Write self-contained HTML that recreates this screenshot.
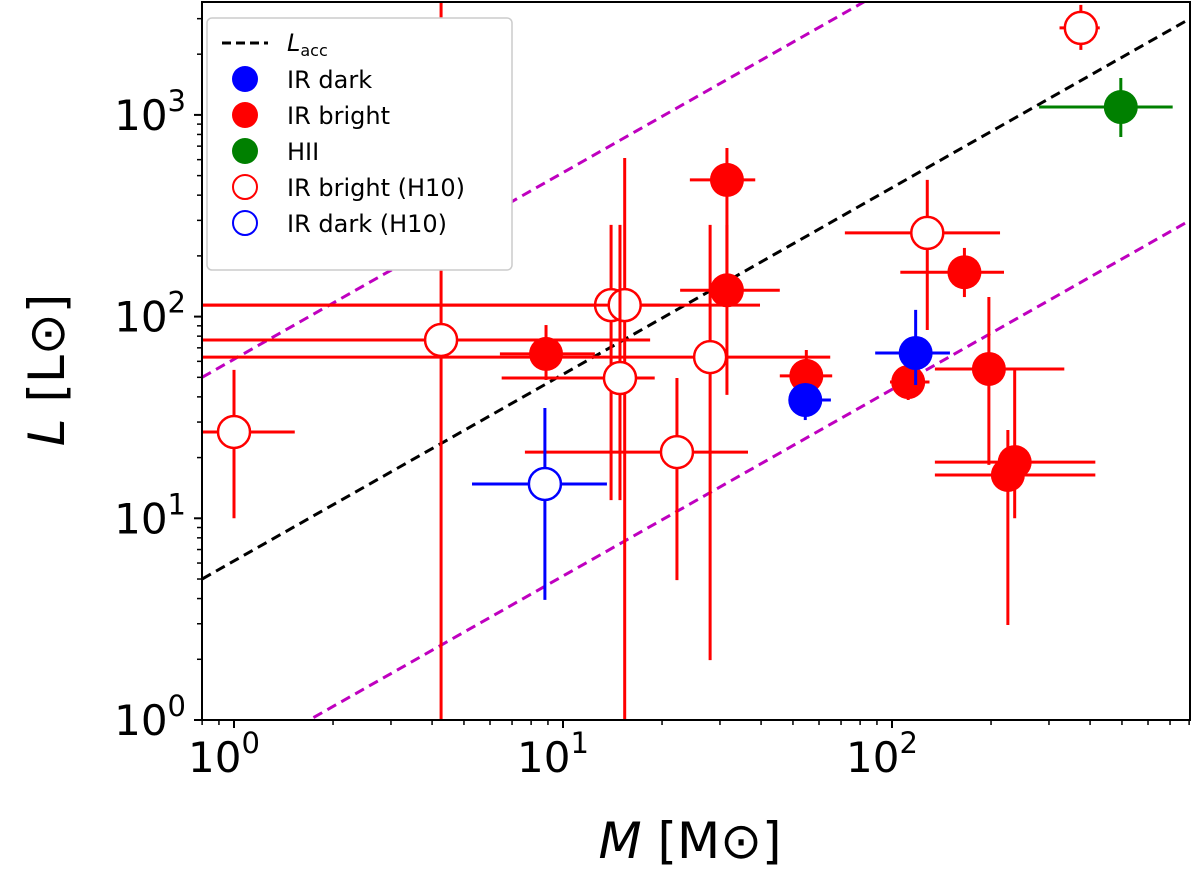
<!DOCTYPE html>
<html><head><meta charset="utf-8"><style>
body{margin:0;background:#fff;}
svg{display:block;font-family:"DejaVu Sans","Liberation Sans",sans-serif;}
</style></head><body>
<svg id="chart" width="1200" height="876" viewBox="0 0 1200 876" xmlns="http://www.w3.org/2000/svg">
<defs><clipPath id="clip"><rect x="202" y="2" width="988" height="718"/></clipPath></defs>
<g id="marks" clip-path="url(#clip)"></g>
<rect x="202" y="2" width="988" height="718" fill="none" stroke="#000" stroke-width="2"/>
<g id="axes"></g>
<text x="690" y="858" font-size="50" text-anchor="middle"><tspan font-style="italic">M</tspan> [M<tspan>⊙</tspan>]</text>
<text transform="translate(64,370) rotate(-90)" font-size="50" text-anchor="middle"><tspan font-style="italic">L</tspan> [L<tspan>⊙</tspan>]</text>
<g id="legend">
<rect x="207" y="18" width="305" height="252" rx="5" fill="#fff" stroke="#ccc" stroke-width="1.5"/>
<line x1="222" y1="43" x2="268" y2="43" stroke="#000" stroke-width="3" stroke-dasharray="9,5"/>
<text x="287" y="51" font-size="24"><tspan font-style="italic">L</tspan><tspan font-size="16" dy="5">acc</tspan></text>
<circle cx="245" cy="79" r="13" fill="#0000ff"/><text x="287" y="88" font-size="24">IR dark</text>
<circle cx="245" cy="115" r="13" fill="#ff0000"/><text x="287" y="124" font-size="24">IR bright</text>
<circle cx="245" cy="151" r="13" fill="#008000"/><text x="287" y="160" font-size="24">HII</text>
<circle cx="245" cy="187" r="12" fill="#fff" stroke="#ff0000" stroke-width="2"/><text x="287" y="196" font-size="24">IR bright (H10)</text>
<circle cx="245" cy="223" r="12" fill="#fff" stroke="#0000ff" stroke-width="2"/><text x="287" y="232" font-size="24">IR dark (H10)</text>
</g>
</svg>
<script>
// Data (mass in Msun, luminosity in Lsun)
const openRedM   = [1.0, 4.26, 14.0, 15.4, 14.9, 22.2, 28.0, 128, 375];
const openRedL   = [26.8, 76.6, 114, 114, 49.6, 21.3, 63, 260, 2700];
const openRedMlo = [0.8, 0.8, 0.8, 0.8, 6.51, 7.66, 0.8, 71.9, 323];
const openRedMhi = [1.53, 18.4, 39.7, 19.7, 19.0, 36.5, 64.9, 213, 428];
const openRedLlo = [10.0, 1, 12.3, 1, 12.3, 4.94, 1.98, 85.8, 2100];
const openRedLhi = [54.4, 3700, 285, 611, 285, 49.6, 285, 476, 3510];

const openBlueM = [8.81], openBlueL = [14.8];
const openBlueMlo = [5.29], openBlueMhi = [13.6], openBlueLlo = [3.94], openBlueLhi = [35.2];

const redM   = [8.88, 31.5, 31.5, 54.9, 112, 166, 197, 225, 236];
const redL   = [65.3, 476, 135, 50.8, 47.4, 166, 55, 16.4, 19.0];
const redMlo = [6.43, 24.3, 22.7, 45.6, 98.6, 106, 135, 135, 135];
const redMhi = [12.5, 38.4, 45.6, 65.8, 130, 219, 334, 415, 415];
const redLlo = [48.5, 135, 40.9, 36.5, 38.6, 125, 18.4, 2.96, 10.0];
const redLhi = [90.8, 685, 285, 68.3, 56.2, 219, 125, 27.4, 55];

const blueM = [54.5, 118], blueL = [38.6, 66];
const blueMlo = [48.5, 88.9], blueMhi = [65.2, 150], blueLlo = [30.7, 45.8], blueLhi = [45.8, 108];

const greenM = [496], greenL = [1094];
const greenMlo = [280], greenMhi = [713], greenLlo = [777], greenLhi = [1524];

const accM = [0.8, 805], accL = [5, 3000];
const xTicks = [1, 10, 100], xTickExp = ["0","1","2"];
const yTicks = [1, 10, 100, 1000], yTickExp = ["0","1","2","3"];

const NS = "http://www.w3.org/2000/svg";
function xs(m){ return 234 + 329 * Math.log10(m); }
function ys(l){ return 720 - 201.7 * Math.log10(l); }
const marks = document.getElementById('marks');
const axes = document.getElementById('axes');
function el(tag, attrs, parent){ const e = document.createElementNS(NS, tag); for (const k in attrs) e.setAttribute(k, attrs[k]); parent.appendChild(e); return e; }

function accLine(f, color, name){
  const l = el('line', {x1: xs(accM[0]), y1: ys(accL[0]*f), x2: xs(accM[1]), y2: ys(accL[1]*f), stroke: color, 'stroke-width': 3, 'stroke-dasharray': '10,6'}, marks);
  
  
}
accLine(1, '#000', 'lacc-line');
accLine(10, '#bf00bf', 'upper-limit-line');
accLine(0.1, '#bf00bf', 'lower-limit-line');

function series(M, L, Mlo, Mhi, Llo, Lhi, color, open, name){
  for (let i = 0; i < M.length; i++){
    const g = el('g', {}, marks);
    
    
    el('line', {x1: xs(Mlo[i]), x2: xs(Mhi[i]), y1: ys(L[i]), y2: ys(L[i]), stroke: color, 'stroke-width': 3}, g);
    el('line', {x1: xs(M[i]), x2: xs(M[i]), y1: ys(Llo[i]), y2: ys(Lhi[i]), stroke: color, 'stroke-width': 3}, g);
    el('circle', {cx: xs(M[i]), cy: ys(L[i]), r: open ? 16 : 17, fill: open ? '#fff' : color, stroke: open ? color : 'none', 'stroke-width': 2.5}, g);
  }
}
series(openRedM, openRedL, openRedMlo, openRedMhi, openRedLlo, openRedLhi, '#ff0000', true, 'ir-bright-h10');
series(openBlueM, openBlueL, openBlueMlo, openBlueMhi, openBlueLlo, openBlueLhi, '#0000ff', true, 'ir-dark-h10');
series(redM, redL, redMlo, redMhi, redLlo, redLhi, '#ff0000', false, 'ir-bright');
series(blueM, blueL, blueMlo, blueMhi, blueLlo, blueLhi, '#0000ff', false, 'ir-dark');
series(greenM, greenL, greenMlo, greenMhi, greenLlo, greenLhi, '#008000', false, 'hii');

xTicks.forEach((v, i) => {
  const x = xs(v);
  el('line', {x1: x, x2: x, y1: 720, y2: 728, stroke: '#000', 'stroke-width': 2}, axes);
  const t = el('text', {x: x - 10, y: 772, 'font-size': 42, 'text-anchor': 'middle'}, axes);
  
  
  t.innerHTML = '10<tspan font-size="29" dy="-19">' + xTickExp[i] + '</tspan>';
  for (let k = 2; k < 10; k++){ const xm = xs(v*k); if (xm < 1190) el('line', {x1: xm, x2: xm, y1: 720, y2: 725, stroke: '#000', 'stroke-width': 1.5}, axes); }
});
el('line', {x1: xs(0.8), x2: xs(0.8), y1: 720, y2: 725, stroke: '#000', 'stroke-width': 1.5}, axes);
el('line', {x1: xs(0.9), x2: xs(0.9), y1: 720, y2: 725, stroke: '#000', 'stroke-width': 1.5}, axes);
yTicks.forEach((v, i) => {
  const y = ys(v);
  el('line', {x1: 194, x2: 202, y1: y, y2: y, stroke: '#000', 'stroke-width': 2}, axes);
  const t = el('text', {x: 186, y: y + 15, 'font-size': 42, 'text-anchor': 'end'}, axes);
  
  
  t.innerHTML = '10<tspan font-size="29" dy="-19">' + yTickExp[i] + '</tspan>';
  for (let k = 2; k < 10; k++){ const ym = ys(v*k); if (ym > 2) el('line', {x1: 197, x2: 202, y1: ym, y2: ym, stroke: '#000', 'stroke-width': 1.5}, axes); }
});
</script>
</body></html>
